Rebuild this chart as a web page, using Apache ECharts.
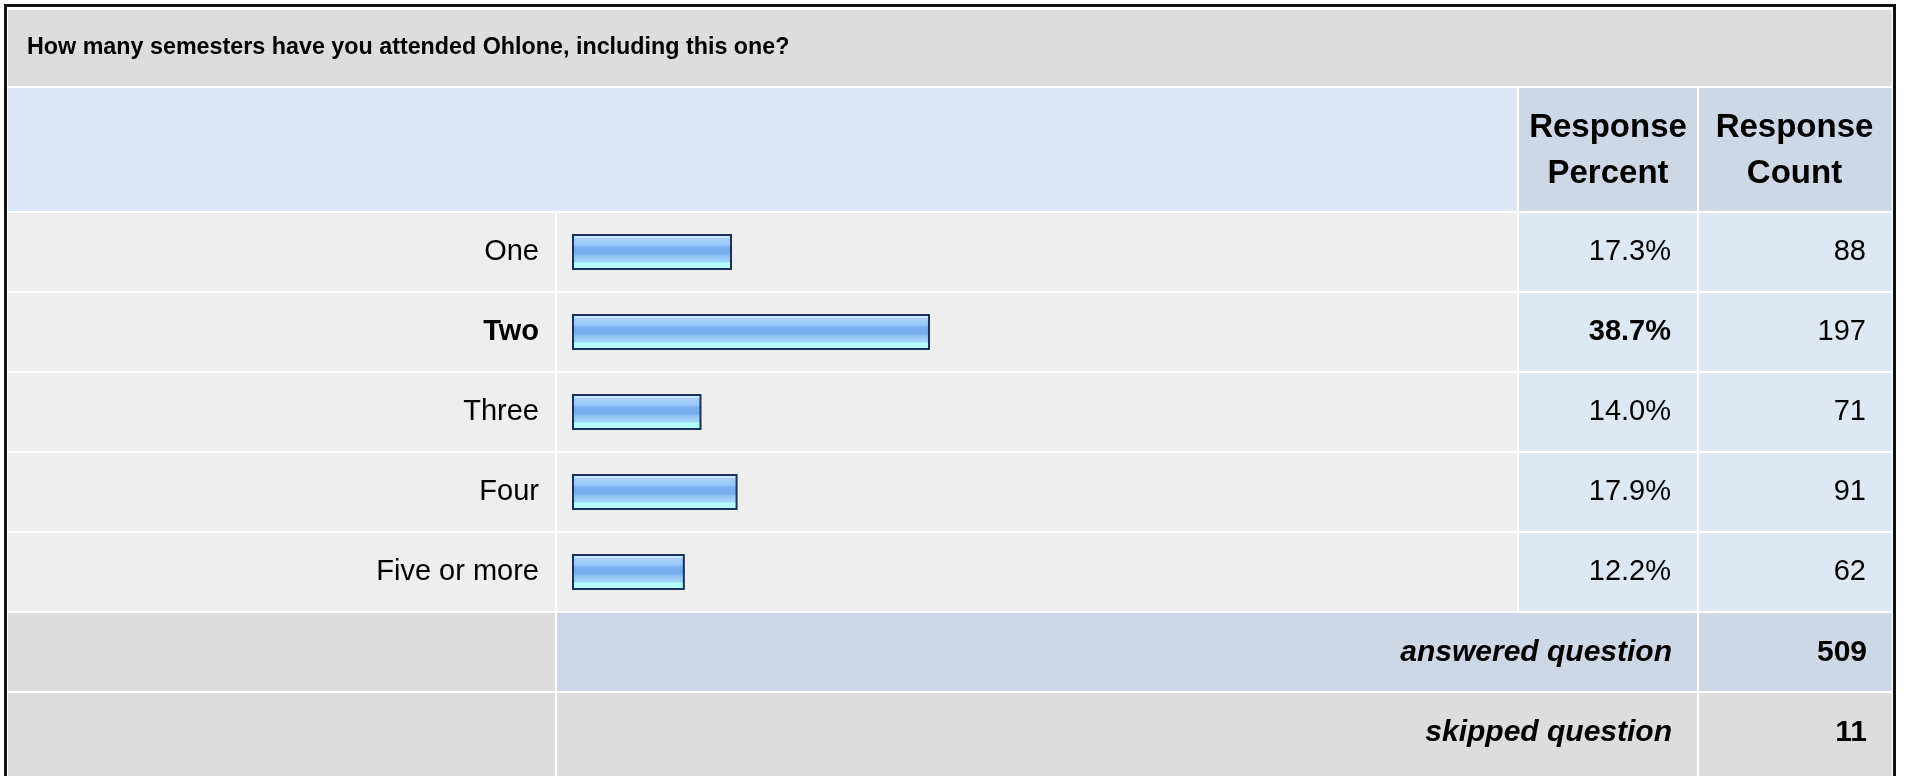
<!DOCTYPE html>
<html>
<head>
<meta charset="utf-8">
<script src="https://cdn.jsdelivr.net/npm/echarts@6/dist/echarts.min.js"></script>
<style>
  html, body { margin: 0; padding: 0; background: #fff; }
  #chart { width: 1907px; height: 776px; }
</style>
</head>
<body>
<div id="chart"></div>
<script>
const question = 'How many semesters have you attended Ohlone, including this one?'
const categories = ['One', 'Two', 'Three', 'Four', 'Five or more']
const percents = [17.3, 38.7, 14.0, 17.9, 12.2]
const counts = [88, 197, 71, 91, 62]
const headers = ['Response\nPercent', 'Response\nCount']
const answered = 509
const skipped = 11

const FONT = '"Liberation Sans", Arial, sans-serif'
const maxPct = Math.max(...percents)

let chart = echarts.init(document.getElementById('chart'))

// table cell layout (pixels)
const colX = [8, 557, 1519, 1699, 1892]   // label | bar | percent | count | end
const rowTop = 213, rowH = 78, rowGap = 2

function cell(x1, x2, y, h, color) {
  return { type: 'rect', z: -10, shape: { x: x1, y: y, width: x2 - x1 - 2, height: h }, style: { fill: color } }
}

let graphics = [
  // outer frame
  { type: 'rect', z: 20, shape: { x: 5.5, y: 5.5, width: 1889, height: 820 }, style: { fill: 'none', stroke: '#111', lineWidth: 3 } },
  // title row
  cell(colX[0], colX[4] + 2, 10, 76, '#dddddd'),
  { type: 'text', z: 10, style: { text: question, x: 27, y: 48, font: 'bold 23.3px ' + FONT, fill: '#000', verticalAlign: 'middle' } },
  // header row
  cell(colX[0], colX[2], 88, 123, '#dce8f5'),
  cell(colX[2], colX[3], 88, 123, '#ccd8e6'),
  cell(colX[3], colX[4] + 2, 88, 123, '#ccd8e6')
]
headers.forEach((h, i) => {
  graphics.push({ type: 'text', z: 10, style: {
    text: h, x: (colX[2 + i] + colX[3 + i] - 2) / 2, y: 151, font: 'bold 33px ' + FONT,
    lineHeight: 46, fill: '#000', align: 'center', verticalAlign: 'middle' } })
})
categories.forEach((c, i) => {
  let y = rowTop + i * (rowH + rowGap)
  graphics.push(cell(colX[0], colX[1], y, rowH, '#eeeeee'))
  graphics.push(cell(colX[1], colX[2], y, rowH, '#eeeeee'))
  graphics.push(cell(colX[2], colX[3], y, rowH, '#dde8f5'))
  graphics.push(cell(colX[3], colX[4] + 2, y, rowH, '#dde8f5'))
})
// footer rows
let yA = rowTop + 5 * (rowH + rowGap)
let yS = yA + rowH + rowGap
graphics.push(cell(colX[0], colX[1], yA, rowH, '#dddddd'))
graphics.push(cell(colX[1], colX[3], yA, rowH, '#ccd8e6'))
graphics.push(cell(colX[3], colX[4] + 2, yA, rowH, '#ccd8e6'))
graphics.push(cell(colX[0], colX[1], yS, rowH + 10, '#dddddd'))
graphics.push(cell(colX[1], colX[3], yS, rowH + 10, '#dddddd'))
graphics.push(cell(colX[3], colX[4] + 2, yS, rowH + 10, '#dddddd'))
;[['answered question', answered, yA], ['skipped question', skipped, yS]].forEach(([t, v, y]) => {
  graphics.push({ type: 'text', z: 10, style: { text: t, x: 1672, y: y + 40, font: 'italic bold 30px ' + FONT, fill: '#000', align: 'right', verticalAlign: 'middle' } })
  graphics.push({ type: 'text', z: 10, style: { text: String(v), x: 1867, y: y + 40, font: 'bold 30px ' + FONT, fill: '#000', align: 'right', verticalAlign: 'middle' } })
})

const labelStyle = {
  fontFamily: FONT, fontSize: 29, color: '#000',
  rich: { b: { fontFamily: FONT, fontSize: 29, fontWeight: 'bold', color: '#000' } }
}
function boldIfMax(text, i) {
  return percents[i] === maxPct ? '{b|' + text + '}' : text
}

let option = {
  animation: false,
  backgroundColor: '#fff',
  graphic: { elements: graphics },
  grid: { left: 572, top: 212, width: 925, height: 400 },
  xAxis: { type: 'value', min: 0, max: 100, show: false },
  yAxis: [
    {
      type: 'category', inverse: true, data: categories,
      axisLine: { show: false }, axisTick: { show: false },
      axisLabel: Object.assign({ margin: 33, formatter: (v, i) => boldIfMax(v, i) }, labelStyle)
    },
    {
      type: 'category', inverse: true, position: 'right', offset: 174,
      data: percents.map(p => p.toFixed(1) + '%'),
      axisLine: { show: false }, axisTick: { show: false },
      axisLabel: Object.assign({ margin: 0, align: 'right', formatter: (v, i) => boldIfMax(v, i) }, labelStyle)
    },
    {
      type: 'category', inverse: true, position: 'right', offset: 369,
      data: counts.map(String),
      axisLine: { show: false }, axisTick: { show: false },
      axisLabel: Object.assign({ margin: 0, align: 'right' }, labelStyle)
    }
  ],
  series: [{
    type: 'bar',
    data: percents,
    barWidth: 36,
    itemStyle: {
      borderColor: '#1b3256',
      borderWidth: 2,
      color: {
        type: 'linear', x: 0, y: 0, x2: 0, y2: 1,
        colorStops: [
          { offset: 0, color: '#c9e4fd' },
          { offset: 0.12, color: '#c9e4fd' },
          { offset: 0.12, color: '#a9d1fb' },
          { offset: 0.3, color: '#98c6f8' },
          { offset: 0.38, color: '#79aff0' },
          { offset: 0.55, color: '#76adef' },
          { offset: 0.62, color: '#92c4f7' },
          { offset: 0.78, color: '#a3d6fb' },
          { offset: 0.8, color: '#b2fcff' },
          { offset: 1, color: '#b2fcff' }
        ]
      }
    }
  }]
}

chart.setOption(option)
</script>
</body>
</html>
